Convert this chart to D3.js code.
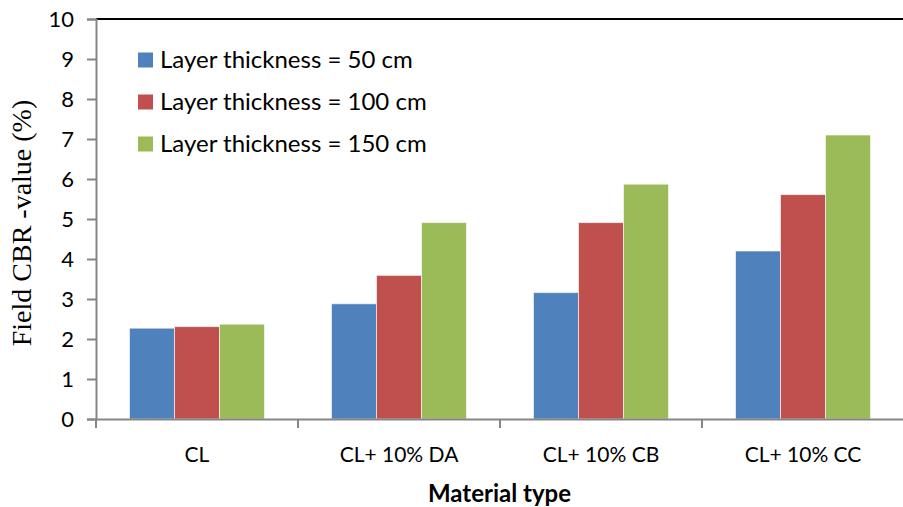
<!DOCTYPE html>
<html>
<head>
<meta charset="utf-8">
<script src="https://cdn.jsdelivr.net/npm/d3@7"></script>
<style>
  html, body { margin: 0; padding: 0; background: #fff; }
  svg { display: block; }
</style>
</head>
<body>
<svg id="chart" width="903" height="507"></svg>
<script>
// Field CBR values per material type and layer thickness
const categories = ["CL", "CL+ 10% DA", "CL+ 10% CB", "CL+ 10% CC"];
const seriesNames = ["Layer thickness = 50 cm", "Layer thickness = 100 cm", "Layer thickness = 150 cm"];
const thickness50 = [2.27, 2.88, 3.16, 4.20];
const thickness100 = [2.31, 3.59, 4.91, 5.61];
const thickness150 = [2.37, 4.91, 5.87, 7.10];
const yTicks = [0, 1, 2, 3, 4, 5, 6, 7, 8, 9, 10];
const colors = ["#4F81BD", "#C0504D", "#9BBB59"];

const series = [thickness50, thickness100, thickness150];

const svg = d3.select("#chart");
const margin = { left: 96, right: -1, top: 19, bottom: 88 };
const W = 903, H = 507;
const plotRight = W - margin.right;
const plotBottom = H - margin.bottom;

const sansFont = "Lato, 'Open Sans', sans-serif";

const x = d3.scaleBand().domain(categories).range([margin.left, plotRight]).paddingInner(0).paddingOuter(0);
const x1 = d3.scaleBand().domain(d3.range(series.length)).range([0, x.bandwidth()]).paddingInner(0).paddingOuter(0.5 * 67 / 45);
const y = d3.scaleLinear().domain([0, 10]).range([plotBottom, margin.top]);

// plot area top border
svg.append("line")
  .attr("x1", margin.left).attr("x2", W)
  .attr("y1", y(10)).attr("y2", y(10))
  .attr("stroke", "#000").attr("stroke-width", 2);

// bars
const groups = svg.append("g").selectAll("g")
  .data(categories)
  .join("g")
  .attr("transform", d => `translate(${x(d)},0)`);

groups.selectAll("rect")
  .data((c, i) => series.map((s, k) => ({ k, v: s[i] })))
  .join("rect")
  .attr("x", d => x1(d.k))
  .attr("width", x1.bandwidth())
  .attr("y", d => y(d.v))
  .attr("height", d => y(0) - y(d.v))
  .attr("fill", d => colors[d.k])
  .attr("stroke", "rgba(255,255,255,0.6)")
  .attr("stroke-width", 1);

// y axis
const yAxis = d3.axisLeft(y).tickValues(yTicks).tickSize(9).tickPadding(13).tickFormat(d3.format("d"));
const gy = svg.append("g").attr("transform", `translate(${margin.left},0)`).call(yAxis);
gy.select(".domain").attr("stroke", "#868686").attr("stroke-width", 2);
gy.selectAll(".tick line").attr("stroke", "#868686").attr("stroke-width", 2);
gy.selectAll(".tick text").attr("font-family", sansFont).attr("font-size", 22).attr("fill", "#000");

// x axis
const xAxis = d3.axisBottom(x).tickSize(0).tickPadding(28);
const gx = svg.append("g").attr("transform", `translate(0,${plotBottom})`).call(xAxis);
gx.select(".domain").attr("stroke", "#868686").attr("stroke-width", 2);
gx.selectAll(".tick text").attr("font-family", sansFont).attr("font-size", 21).attr("fill", "#000");
// category boundary ticks
const boundaries = categories.map(c => x(c)).concat([x(categories[categories.length - 1]) + x.bandwidth()]);
gx.selectAll(".bound")
  .data(boundaries)
  .join("line")
  .attr("class", "bound")
  .attr("x1", d => d).attr("x2", d => d)
  .attr("y1", 0).attr("y2", 9)
  .attr("stroke", "#868686").attr("stroke-width", 2);

// axis titles
svg.append("text")
  .attr("x", (margin.left + W) / 2)
  .attr("y", 502)
  .attr("text-anchor", "middle")
  .attr("font-family", sansFont)
  .attr("font-weight", "bold")
  .attr("font-size", 24)
  .text("Material type");

svg.append("text")
  .attr("transform", `translate(31,${(y(0) + y(10)) / 2 + 4}) rotate(-90)`)
  .attr("text-anchor", "middle")
  .attr("font-family", "'Liberation Serif', 'Times New Roman', serif")
  .attr("font-size", 28)
  .text("Field CBR -value (%)");

// legend
const legend = svg.append("g").attr("transform", "translate(138,60)");
const items = legend.selectAll("g")
  .data(seriesNames)
  .join("g")
  .attr("transform", (d, i) => `translate(0,${i * 42})`);
items.append("rect")
  .attr("x", 0).attr("y", -7.5)
  .attr("width", 15).attr("height", 15)
  .attr("fill", (d, i) => colors[i]);
items.append("text")
  .attr("x", 22).attr("y", 0)
  .attr("dy", "0.35em")
  .attr("font-family", sansFont)
  .attr("font-size", 24)
  .text(d => d);
</script>
</body>
</html>
